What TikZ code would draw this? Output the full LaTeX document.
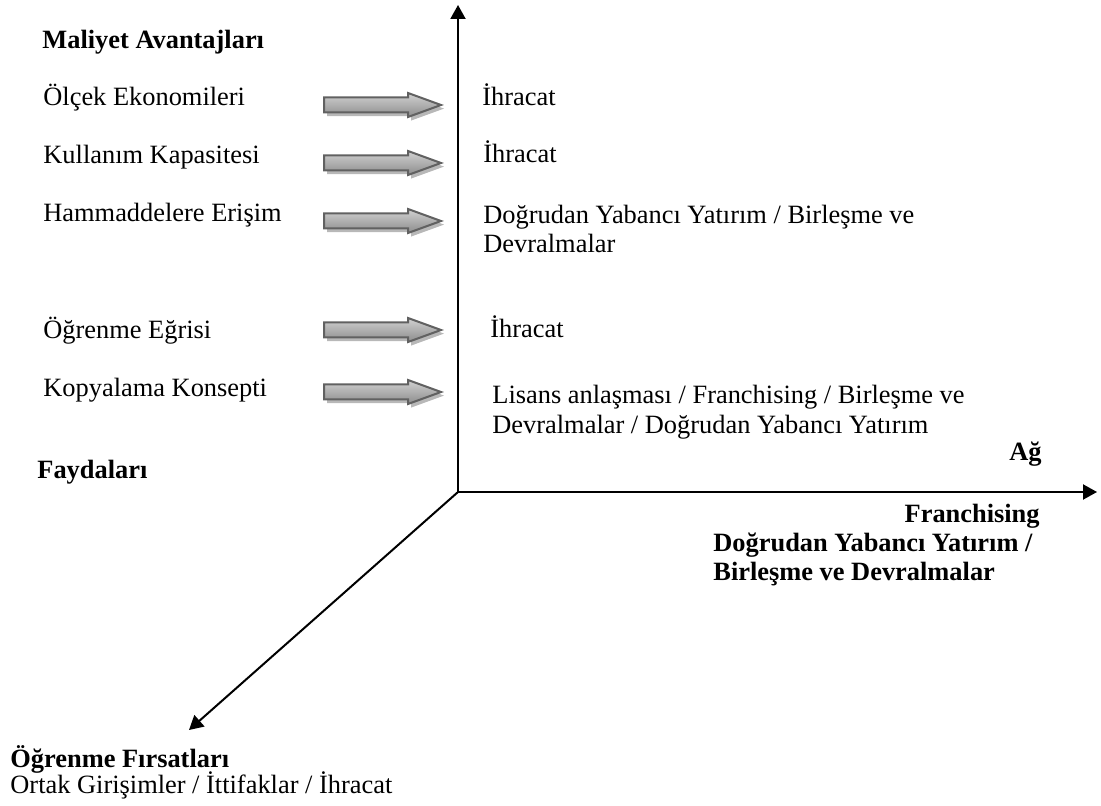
\documentclass[tikz,border=0pt]{standalone}
\usepackage{fontspec}
\setmainfont{Liberation Serif}
\usetikzlibrary{arrows.meta,shapes.arrows,shadows}
\begin{document}
\begin{tikzpicture}[x=0.5pt,y=-0.5pt,
  lbl/.style={inner sep=0pt, anchor=base west, align=left,
    font=\fontsize{13.2}{14.5}\selectfont},
  hd/.style={lbl, font=\fontsize{13.2}{14.5}\selectfont\bfseries},
  blockarrow/.style={single arrow, draw=black!62, line width=1pt,
    minimum height=58.5pt, inner sep=3.25pt,
    single arrow head extend=2.25pt, single arrow tip angle=40,
    top color=black!18, middle color=black!4, bottom color=black!45,
    drop shadow={shadow xshift=1.5pt, shadow yshift=-1.8pt,
      fill=black!28, opacity=1},
    anchor=west},
  axis/.style={line width=1pt, -{Triangle[length=7pt,width=7.5pt]}}
]
\useasboundingbox (0,0) rectangle (1101,806);

% axes
\coordinate (O) at (458,492);
\coordinate (ytop) at (458,5);
\coordinate (xend) at (1097,492);
\coordinate (dend) at (189,730);
\draw[axis] (O) -- (ytop);
\draw[axis] (O) -- (xend);
\draw[axis] (O) -- (dend);

% cost advantages
\node[hd] (maliyet) at (42,49) {Maliyet Avantajları};
\node[lbl] (olcek) at (43,106) {Ölçek Ekonomileri};
\node[lbl] (kullanim) at (43,164) {Kullanım Kapasitesi};
\node[lbl] (hammadde) at (43,222) {Hammaddelere Erişim};
\node[lbl] (egri) at (43,339) {Öğrenme Eğrisi};
\node[lbl] (kopya) at (43,397) {Kopyalama Konsepti};
\node[hd] (fayda) at (37,478) {Faydaları};

% block arrows
\node[blockarrow] (a1) at (323,105) {};
\node[blockarrow] (a2) at (323,163) {};
\node[blockarrow] (a3) at (323,221) {};
\node[blockarrow] (a4) at (323,330) {};
\node[blockarrow] (a5) at (323,392) {};

% entry modes (base anchor sits on the last line)
\node[lbl] (r1) at (482,106) {İhracat};
\node[lbl] (r2) at (483,163) {İhracat};
\node[lbl] (r3) at (483,253) {Doğrudan Yabancı Yatırım / Birleşme ve\\Devralmalar};
\node[lbl] (r4) at (490,338) {İhracat};
\node[lbl] (r5) at (492,433) {Lisans anlaşması / Franchising / Birleşme ve\\Devralmalar / Doğrudan Yabancı Yatırım};

% network axis
\node[hd, anchor=base east] (ag) at (1042,460) {Ağ};
\node[hd, anchor=base east] (fr) at (1040,522) {Franchising};
\node[hd] (dyy) at (713,580) {Doğrudan Yabancı Yatırım /\\Birleşme ve Devralmalar};

% learning axis
\node[hd] (firsat) at (10,767) {Öğrenme Fırsatları};
\node[lbl] (ortak) at (10,793) {Ortak Girişimler / İttifaklar / İhracat};
\end{tikzpicture}
\end{document}
